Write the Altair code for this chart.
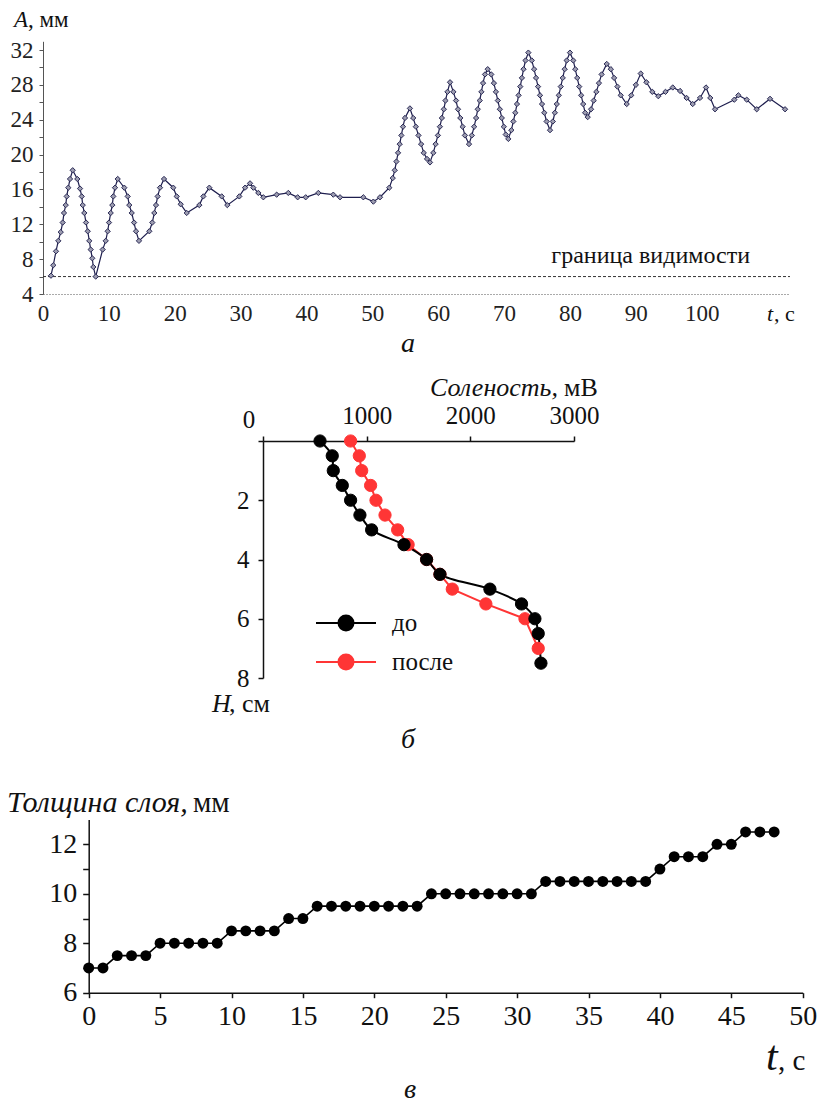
import altair as alt
import pandas as pd

SERIF = "Liberation Serif"

# ---------------- Chart а : amplitude A (mm) vs time t (s) ----------------
T_A = [
    1.21, 1.56, 1.97, 2.32, 2.69, 2.99, 3.19, 3.45, 3.60, 3.84, 4.10, 4.51,
    5.21, 5.62, 5.88, 6.03, 6.27, 6.53, 6.79, 7.03, 7.24, 7.48, 7.64, 8.00,
    9.06, 9.52, 9.82, 10.02, 10.28, 10.52, 10.67, 10.93, 11.34,
    12.34, 12.86, 13.10, 13.47, 13.82, 14.12, 14.57,
    16.14, 16.59, 16.90, 17.15, 17.41, 17.76, 18.37,
    19.78, 20.30, 20.90, 21.82,
    23.73, 24.34, 25.25,
    27.13, 27.98,
    29.80, 30.67, 31.43, 31.93, 32.69, 33.45,
    35.47, 37.24, 38.66, 39.88, 41.80, 44.07, 45.09, 48.63, 50.15, 51.16, 52.57, 53.09,
    53.40, 53.65, 53.90, 54.15, 54.40, 54.65, 54.95, 55.70,
    56.20, 56.60, 57.00, 57.40, 57.80, 58.30, 58.75,
    59.25, 59.60, 59.95, 60.25, 60.55, 60.85, 61.10, 61.40, 61.79,
    62.30, 62.70, 63.00, 63.35, 63.70, 64.05, 64.67,
    65.10, 65.45, 65.75, 66.00, 66.30, 66.55, 66.80, 67.10, 67.51,
    68.05, 68.45, 68.75, 69.05, 69.35, 69.65, 69.95, 70.25, 70.64,
    71.10, 71.40, 71.70, 71.95, 72.20, 72.45, 72.70, 72.95, 73.25, 73.68,
    74.20, 74.55, 74.85, 75.15, 75.45, 75.75, 76.10, 76.45, 76.97,
    77.40, 77.70, 78.00, 78.30, 78.60, 78.90, 79.20, 79.50, 80.00,
    80.50, 80.80, 81.10, 81.40, 81.70, 82.00, 82.30, 82.69,
    83.20, 83.60, 84.00, 84.40, 84.80, 85.58,
    86.20, 86.70, 87.20, 87.70, 88.61,
    89.30, 90.00, 90.74,
    91.60, 92.50, 93.41, 94.50, 95.60, 96.71, 97.70, 98.63, 99.74, 100.65,
    101.30, 102.02, 104.95, 105.56, 106.83, 108.35, 110.37, 112.65,
]
A_A = [
    6.1, 7.3, 8.9, 10.1, 11.1, 12.2, 13.3, 14.2, 15.2, 16.2, 17.2, 18.2,
    17.2, 16.1, 15.2, 14.2, 13.3, 12.2, 11.2, 10.1, 9.1, 8.1, 7.1, 6.0,
    9.1, 10.1, 11.2, 12.2, 13.3, 14.2, 15.2, 16.2, 17.2,
    16.2, 15.2, 14.2, 13.3, 12.2, 11.2, 10.1,
    11.2, 12.2, 13.3, 14.2, 15.2, 16.2, 17.2,
    16.2, 15.2, 14.3, 13.3,
    14.2, 15.2, 16.2,
    15.2, 14.2,
    15.2, 16.2, 16.7, 16.2, 15.6, 15.1,
    15.4, 15.6, 15.1, 15.1, 15.6, 15.4, 15.1, 15.1, 14.6, 15.1, 16.2, 17.3,
    18.2, 19.2, 20.2, 21.2, 22.2, 23.2, 24.2, 25.3,
    24.2, 23.2, 22.2, 21.2, 20.2, 19.5, 19.1,
    20.2, 21.2, 22.2, 23.2, 24.2, 25.2, 26.2, 27.2, 28.3,
    27.2, 26.2, 25.2, 24.2, 23.2, 22.2, 21.2,
    22.2, 23.2, 24.2, 25.2, 26.2, 27.2, 28.2, 29.2, 29.8,
    29.2, 28.2, 27.2, 26.2, 25.2, 24.2, 23.2, 22.3, 21.8,
    22.8, 23.8, 24.8, 25.8, 26.8, 27.8, 28.8, 29.8, 30.8, 31.7,
    30.8, 29.8, 28.8, 27.8, 26.8, 25.8, 24.8, 23.8, 22.8,
    23.8, 24.8, 25.8, 26.8, 27.8, 28.8, 29.8, 30.8, 31.7,
    30.8, 29.8, 28.8, 27.8, 26.8, 25.8, 24.8, 24.3,
    25.2, 26.2, 27.2, 28.2, 29.2, 30.4,
    29.8, 28.8, 27.8, 26.8, 25.8,
    26.8, 28.0, 29.3,
    28.3, 27.2, 26.7, 27.2, 27.7, 27.3, 26.5, 25.8, 26.5, 27.7,
    26.5, 25.2, 26.3, 26.8, 26.3, 25.2, 26.4, 25.2,
]
VIS_LIMIT_A = [6]            # "граница видимости"
VIS_LIMIT_T = [0, 113.4]     # extent of that line
X_TICKS_A = [0, 10, 20, 30, 40, 50, 60, 70, 80, 90, 100]
Y_TICKS_A = [4, 6, 8, 10, 12, 14, 16, 18, 20, 22, 24, 26, 28, 30, 32]

# ---------------- Chart б : salinity profile ----------------
SERIES = ["до", "после"]
BEFORE_S = [550, 668, 678, 765, 845, 935, 1048, 1360, 1578, 1707, 2189, 2494, 2623, 2655, 2681]
BEFORE_H = [0, 0.5, 1, 1.5, 2, 2.5, 3, 3.5, 4, 4.5, 5, 5.5, 6, 6.5, 7.5]
AFTER_S = [845, 929, 952, 1038, 1090, 1177, 1299, 1400, 1578, 1707, 1826, 2150, 2527, 2655]
AFTER_H = [0, 0.5, 1, 1.5, 2, 2.5, 3, 3.5, 4, 4.5, 5, 5.5, 6, 7]
X_TICKS_B = [0, 1000, 2000, 3000]
Y_TICKS_B = [0, 2, 4, 6, 8]

# ---------------- Chart в : layer thickness vs time ----------------
T_V = list(range(0, 49))
THICK_V = [7, 7, 7.5, 7.5, 7.5, 8, 8, 8, 8, 8,
           8.5, 8.5, 8.5, 8.5, 9, 9, 9.5, 9.5, 9.5, 9.5,
           9.5, 9.5, 9.5, 9.5, 10, 10, 10, 10, 10, 10,
           10, 10, 10.5, 10.5, 10.5, 10.5, 10.5, 10.5, 10.5, 10.5,
           11, 11.5, 11.5, 11.5, 12, 12, 12.5, 12.5, 12.5]
X_TICKS_V = [0, 5, 10, 15, 20, 25, 30, 35, 40, 45, 50]
Y_TICKS_V = [6, 7, 8, 9, 10, 11, 12]

W = 818
H1, H2, H3 = 360, 405, 344

DUMMY = pd.DataFrame({"k": [0]})


def txt(s, x, y, size, italic=False, align="left", baseline="alphabetic", color="#111"):
    return alt.Chart(DUMMY).mark_text(
        text=s, font=SERIF, fontSize=size,
        fontStyle="italic" if italic else "normal",
        align=align, baseline=baseline, color=color,
    ).encode(x=alt.value(x), y=alt.value(y))


# ================= Row 1 =================
df_a = pd.DataFrame({"t": T_A, "A": A_A})
df_lim = pd.DataFrame({"t0": [VIS_LIMIT_T[0]], "t1": [VIS_LIMIT_T[1]], "A": VIS_LIMIT_A})

sx_a = alt.Scale(domain=[0, 113.4], range=[43, 790], nice=False, zero=False)
sy_a = alt.Scale(domain=[4, 33], range=[294, 41.3], nice=False, zero=False)
ax_a = alt.Axis(orient="bottom", offset=294 - H1, values=X_TICKS_A, ticks=False, format="d",
                domainDash=[1, 2], domainColor="#555", domainWidth=1,
                labelFont=SERIF, labelFontSize=23, labelColor="#222",
                labelPadding=8, labelFlush=False, labelOverlap=False, grid=False, title=None)
ay_a = alt.Axis(orient="left", offset=-43, values=Y_TICKS_A, format="d",
                labelExpr="datum.value % 4 === 0 ? datum.label : ''",
                tickSize=4, tickColor="#555", domainColor="#555", domainWidth=1,
                labelFont=SERIF, labelFontSize=23, labelColor="#222",
                labelPadding=6, labelOverlap=False, grid=False, title=None)

lim_a = alt.Chart(df_lim).mark_rule(strokeDash=[3, 2], color="#333", strokeWidth=1).encode(
    x=alt.X("t0:Q", scale=sx_a, axis=ax_a), x2="t1:Q", y=alt.Y("A:Q", scale=sy_a, axis=ay_a))
line_a = alt.Chart(df_a).mark_line(color="#1e1e4e", strokeWidth=1.2).encode(
    x=alt.X("t:Q", scale=sx_a, axis=ax_a), y=alt.Y("A:Q", scale=sy_a, axis=ay_a))
pts_a = alt.Chart(df_a).mark_point(shape="diamond", filled=True, fill="#9c9cb0",
                                   stroke="#2a2a55", strokeWidth=1, size=28, opacity=1).encode(
    x=alt.X("t:Q", scale=sx_a, axis=ax_a), y=alt.Y("A:Q", scale=sy_a, axis=ay_a))

row1 = alt.layer(
    lim_a, line_a, pts_a,
    txt("A", 14, 27, 23, italic=True), txt(", мм", 28, 27, 23),
    txt("граница видимости", 750, 263, 24, align="right"),
    txt("t", 767, 321, 22, italic=True), txt(", с", 774, 321, 22),
    txt("а", 408, 352, 28, italic=True, align="center"),
).properties(width=W, height=H1)

# ================= Row 2 =================
df_b = pd.concat([
    pd.DataFrame({"S": AFTER_S, "H": AFTER_H, "series": SERIES[1]}),
    pd.DataFrame({"S": BEFORE_S, "H": BEFORE_H, "series": SERIES[0]}),
], ignore_index=True)

sx_b = alt.Scale(domain=[0, 3000], range=[263, 574], nice=False, zero=False)
sy_b = alt.Scale(domain=[0, 8], range=[81, 318], nice=False, zero=False)
ax_b = alt.Axis(orient="top", offset=-81, values=X_TICKS_B, format="d",
                labelExpr="datum.value === 0 ? '' : datum.label",
                tickSize=5, tickColor="#111", domainColor="#111", domainWidth=1.5, tickWidth=1.5,
                labelFont=SERIF, labelFontSize=25, labelColor="#111",
                labelPadding=8, labelFlush=False, labelOverlap=False, grid=False, title=None)
ay_b = alt.Axis(orient="left", offset=-263, values=Y_TICKS_B, format="d",
                labelExpr="datum.value === 0 ? '' : datum.label",
                tickSize=5, tickColor="#111", domainColor="#111", domainWidth=1.5, tickWidth=1.5,
                labelFont=SERIF, labelFontSize=25, labelColor="#111",
                labelPadding=9, labelOverlap=False, grid=False, title=None)

color_scale = alt.Scale(domain=SERIES, range=["#000000", "#ff3535"])
LEG_PATH = "M-2,0H-0.5M0.5,0H2M-0.5,0A0.5,0.5,0,1,1,0.5,0A0.5,0.5,0,1,1,-0.5,0Z"
legend_b = alt.Legend(orient="none", legendX=330, legendY=247, direction="vertical",
                      symbolType=LEG_PATH, symbolSize=900, symbolStrokeWidth=2,
                      labelFont=SERIF, labelFontSize=25, labelColor="#111",
                      labelOffset=30, rowPadding=10, padding=0, title=None)

line_after = alt.Chart(df_b).transform_filter(alt.datum.series == SERIES[1]).mark_line(
    color="#ff3535", strokeWidth=2).encode(
    x=alt.X("S:Q", scale=sx_b, axis=ax_b), y=alt.Y("H:Q", scale=sy_b, axis=ay_b), order="H:Q")
line_before = alt.Chart(df_b).transform_filter(alt.datum.series == SERIES[0]).mark_line(
    color="#000000", strokeWidth=2, interpolate="catmull-rom").encode(
    x=alt.X("S:Q", scale=sx_b, axis=ax_b), y=alt.Y("H:Q", scale=sy_b, axis=ay_b), order="H:Q")
pts_b = alt.Chart(df_b).mark_point(filled=True, size=150, opacity=1, strokeWidth=1).encode(
    x=alt.X("S:Q", scale=sx_b, axis=ax_b), y=alt.Y("H:Q", scale=sy_b, axis=ay_b),
    fill=alt.Fill("series:N", scale=color_scale, legend=legend_b),
    stroke=alt.Stroke("series:N", scale=color_scale, legend=legend_b))

row2 = alt.layer(
    line_after, line_before, pts_b,
    txt("0", 249, 60, 25, align="center", baseline="middle"),
    txt("Соленость,", 430, 36, 26, italic=True), txt("мВ", 564, 36, 26),
    txt("H", 212, 352, 26, italic=True), txt(", см", 229, 352, 26),
    txt("б", 408, 388, 28, italic=True, align="center"),
).properties(width=W, height=H2)

# ================= Row 3 =================
df_v = pd.DataFrame({"t": T_V, "h": THICK_V})
sx_v = alt.Scale(domain=[0, 50], range=[88.7, 802.7], nice=False, zero=False)
sy_v = alt.Scale(domain=[6, 13], range=[227.7, 54.6], nice=False, zero=False)
ax_v = alt.Axis(orient="bottom", offset=227.7 - H3, values=X_TICKS_V, format="d",
                tickSize=5, tickColor="#111", domainColor="#111", domainWidth=1.5, tickWidth=1.5,
                labelFont=SERIF, labelFontSize=28, labelColor="#111",
                labelPadding=5, labelFlush=False, labelOverlap=False, grid=False, title=None)
ay_v = alt.Axis(orient="left", offset=-88.7, values=Y_TICKS_V, format="d",
                labelExpr="datum.value % 2 === 0 ? datum.label : ''",
                tickSize=6, tickColor="#111", domainColor="#111", domainWidth=1.5, tickWidth=1.5,
                labelFont=SERIF, labelFontSize=28, labelColor="#111",
                labelPadding=6, labelOverlap=False, grid=False, title=None)

line_v = alt.Chart(df_v).mark_line(color="#000000", strokeWidth=1.6).encode(
    x=alt.X("t:Q", scale=sx_v, axis=ax_v), y=alt.Y("h:Q", scale=sy_v, axis=ay_v))
pts_v = alt.Chart(df_v).mark_circle(color="#000000", size=120, opacity=1).encode(
    x=alt.X("t:Q", scale=sx_v, axis=ax_v), y=alt.Y("h:Q", scale=sy_v, axis=ay_v))

row3 = alt.layer(
    line_v, pts_v,
    txt("Толщина слоя,", 7, 47, 30, italic=True), txt("мм", 193, 47, 29),
    txt("t", 766, 305, 42, italic=True), txt(", с", 778, 305, 29),
    txt("в", 410, 333, 28, italic=True, align="center"),
).properties(width=W, height=H3)

chart = alt.vconcat(row1, row2, row3, spacing=0, bounds="flush").resolve_scale(
    x="independent", y="independent", fill="independent", stroke="independent"
).configure_view(strokeWidth=0).properties(padding=0, background="white")

chart.save("out.html", embed_options={"renderer": "svg", "actions": False})
